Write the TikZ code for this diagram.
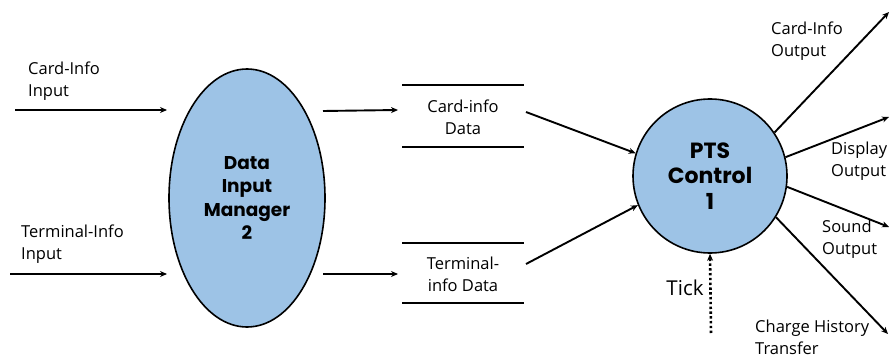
\documentclass[tikz,border=0pt]{standalone}
\usepackage{fontspec}
\setmainfont{Open Sans}
\newfontfamily\procfont{Poppins}
\usetikzlibrary{arrows.meta,shapes.geometric}
\definecolor{procblue}{HTML}{9DC3E6}
\tikzset{
  proc/.style={draw=black, line width=1.6pt, fill=procblue, inner sep=0pt, align=center},
  proctext/.style={font=\procfont\bfseries\fontsize{18.5}{23.5}\selectfont},
  lbl/.style={font=\fontsize{16.5}{22}\selectfont, inner sep=0pt, align=left},
  clbl/.style={font=\fontsize{16.5}{22}\selectfont, inner sep=0pt, align=center},
  flow/.style={line width=1.9pt, -{Stealth[length=7pt,width=6pt]}},
  tickflow/.style={line width=2.6pt, dash pattern=on 2.4pt off 2.4pt, -{Stealth[length=7pt,width=6pt,line width=0pt]}},
  storeline/.style={line width=1.9pt},
}
\begin{document}
\begin{tikzpicture}[x=1pt,y=-1pt]
\useasboundingbox (0,0) rectangle (890,358);
% processes
\node[proc, ellipse, minimum width=156pt, minimum height=258pt, proctext] (dim) at (247,198) {Data\\Input\\Manager\\2};
\node[proc, circle, minimum size=154pt, font=\procfont\bfseries\fontsize{22}{25.5}\selectfont] (pts) at (710,176) {PTS\\Control\\1};
% data stores
\node[clbl] (cdata) at (463,117) {Card-info\\Data};
\node[clbl] (tdata) at (463,274) {Terminal-\\info Data};
\draw[storeline] (402,85) -- (524,85) (402,147) -- (524,147);
\draw[storeline] (402,243) -- (524,243) (402,303) -- (524,303);
% labels
\node[lbl, anchor=west] (lci) at (28,81) {Card-Info\\Input};
\node[lbl, anchor=west] (lti) at (21,244) {Terminal-Info\\Input};
\node[lbl, anchor=west] (lco) at (771,41) {Card-Info\\Output};
\node[lbl, anchor=west] (ldo) at (831,161) {Display\\Output};
\node[lbl, anchor=west] (lso) at (822,239) {Sound\\Output};
\node[lbl, anchor=west] (lch) at (755,337) {Charge History\\Transfer};
\node[lbl, font=\fontsize{20.5}{24}\selectfont] (ltick) at (685,288) {Tick};
% coordinates
\coordinate (ci0) at (15,110);
\coordinate (ci1) at (167,110);
\coordinate (ti0) at (10,274);
\coordinate (ti1) at (167,274);
\coordinate (co0) at (323,111);
\coordinate (co1) at (398,110);
\coordinate (to0) at (323,274);
\coordinate (to1) at (398,274);
\coordinate (cs0) at (526,112);
\coordinate (ts0) at (526,264);
\coordinate (oc) at (889,12);
\coordinate (od) at (889,117);
\coordinate (os) at (889,227);
\coordinate (oh) at (888,334);
\coordinate (tk) at (711,333);
% flows
\draw[flow] (ci0) -- (ci1);
\draw[flow] (ti0) -- (ti1);
\draw[flow] (co0) -- (co1);
\draw[flow] (to0) -- (to1);
\draw[flow] (cs0) -- (pts.163);
\draw[flow] (ts0) -- (pts.202);
\draw[flow] (pts.34) -- (oc);
\draw[flow] (pts.14) -- (od);
\draw[flow] (pts.-8) -- (os);
\draw[flow] (pts.-32) -- (oh);
\draw[tickflow] (tk) -- (pts.south);
\end{tikzpicture}
\end{document}
